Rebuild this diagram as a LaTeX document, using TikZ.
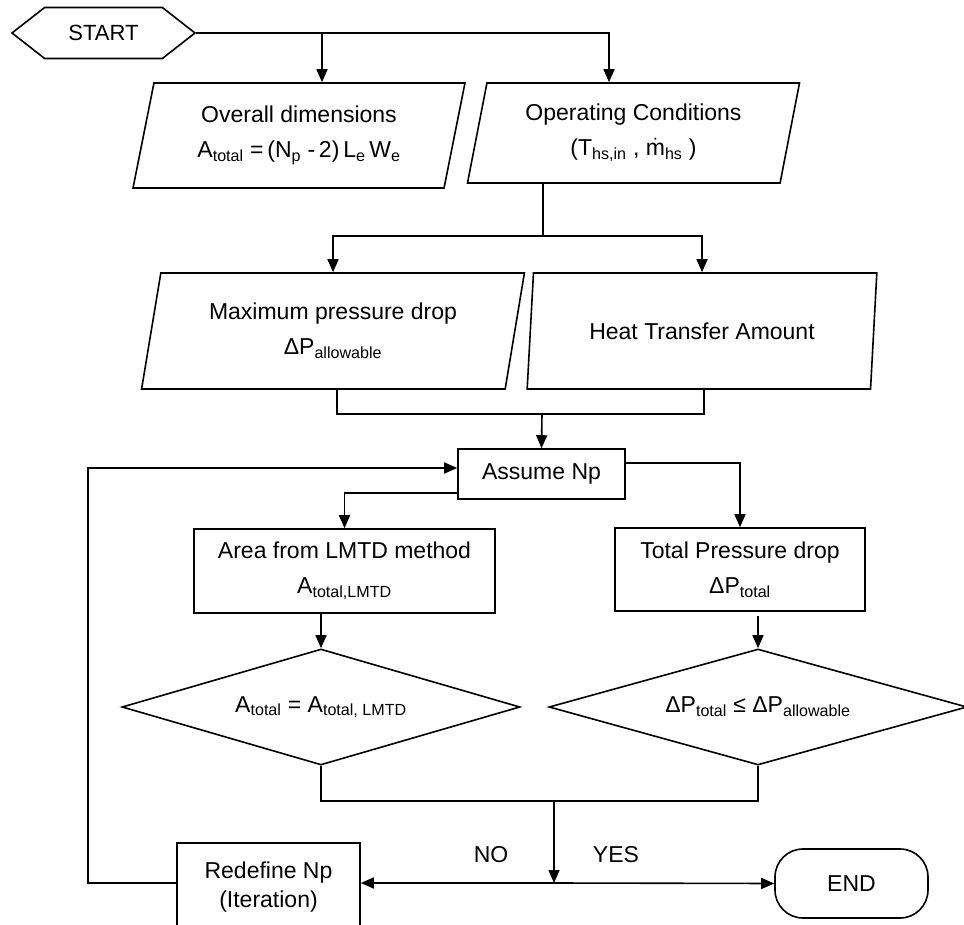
\documentclass[tikz,border=0pt]{standalone}
\usepackage{amsmath}
\usepackage{fontspec}
\setmainfont{Liberation Sans}
\usepackage{tikz}
\usetikzlibrary{shapes, shapes.geometric, shapes.symbols, arrows.meta}
\newcommand{\sbs}[1]{\textsubscript{#1}}

\begin{document}
\begin{tikzpicture}[x=1pt,y=-1pt,line width=1.6pt,
every node/.style={font=\fontsize{23}{35}\selectfont, align=center},
io/.style={draw, trapezium, trapezium left angle=76, trapezium right angle=104,
  trapezium stretches=true, inner sep=0pt},
process/.style={draw, rectangle, inner sep=0pt},
decision/.style={draw, diamond, shape aspect=3.4, inner sep=0pt},
arrow/.style={-{Triangle[length=13pt,width=11pt]}}]
\useasboundingbox (0,0) rectangle (964,925);
\clip (0,0) rectangle (964,925);
% Let us start with the terminals:
\node [draw, signal, signal to=west and east, signal pointer angle=76,
  minimum width=183, minimum height=51, inner sep=0pt,
  font=\fontsize{22}{26}\selectfont] (start) at (103.5,33) {START};
\node [process, rounded corners=28pt, minimum width=153, minimum height=69] (end node) at (851.5,883.5) {END};

% input data
\node [io, minimum width=332, minimum height=105] (input box 1) at (299,135.5)
  {Overall dimensions\\ A\sbs{total} =\,(N\sbs{p} -\,2)\,L\sbs{e}\,W\sbs{e}};
\node [io, minimum width=333, minimum height=100] (input box 2) at (633.5,133)
  {Operating Conditions\\ (T\sbs{hs,in} , $\dot{\text{m}}$\sbs{hs} )};
\node [io, minimum width=384, minimum height=116] (input box 3) at (333,331)
  {Maximum pressure drop\\ ΔP\sbs{allowable}};
\node [io, minimum width=350, minimum height=116] (input box 4) at (702,331)
  {Heat Transfer Amount};

% iteration loop
\node [process, minimum width=167, minimum height=50] (assume) at (541.5,474) {Assume Np};
\node [process, minimum width=301, minimum height=84] (area box) at (344.5,571)
  {Area from LMTD method\\ A\sbs{total,LMTD}};
\node [process, minimum width=250, minimum height=83] (total box) at (740,569.5)
  {Total Pressure drop\\ ΔP\sbs{total}};
\node [decision, minimum width=398, minimum height=116] (decision 1) at (321,707)
  {A\sbs{total} = A\sbs{total, LMTD}};
\node [decision, minimum width=418, minimum height=116] (decision 2) at (758,707)
  {ΔP\sbs{total} ≤ ΔP\sbs{allowable}};
\node [process, minimum width=183, minimum height=88] (redefine) at (268.5,887)
  {Redefine Np\\[-6pt] (Iteration)};
\node (no label) at (491,855) {NO};
\node (yes label) at (616,855) {YES};

\coordinate (start split) at (322,33);
\coordinate (cond split) at (543,236);
\coordinate (merge) at (542,414);
\coordinate (decide) at (554,801);
\coordinate (branch) at (554,883);
\coordinate (loop corner) at (88,468);

\draw [arrow] (start.east) -| ([xshift=-24.5]input box 2.north);
\draw [arrow] (start split) -- (start split |- input box 1.north);
\draw ([xshift=-90.5]input box 2.south) -- (cond split);
\draw [arrow] (cond split) -| (input box 3.north);
\draw [arrow] (cond split) -| (input box 4.north);
\draw ([xshift=4]input box 3.south) |- (merge) -| ([xshift=2]input box 4.south);
\draw [arrow] (merge) -- (assume.north);
\draw [arrow] ([yshift=11]assume.east) -| (total box.north);
\draw [arrow] ([yshift=-19]assume.west) -| (area box.north);
\draw [arrow] (area box.south -| decision 1.north) -- (decision 1.north);
\draw [arrow] ([yshift=-4]total box.south -| decision 2.north) -- (decision 2.north);
\draw (decision 1.south) |- (decide) -| (decision 2.south);
\draw [arrow] (decide) -- (branch);
\draw [arrow] (branch) -- ([yshift=4]redefine.east);
\draw [arrow] (branch) -- (end node.west);
\draw [arrow] ([yshift=4]redefine.west) -| (loop corner) -- ([yshift=6]assume.west);
\end{tikzpicture}
\end{document}
